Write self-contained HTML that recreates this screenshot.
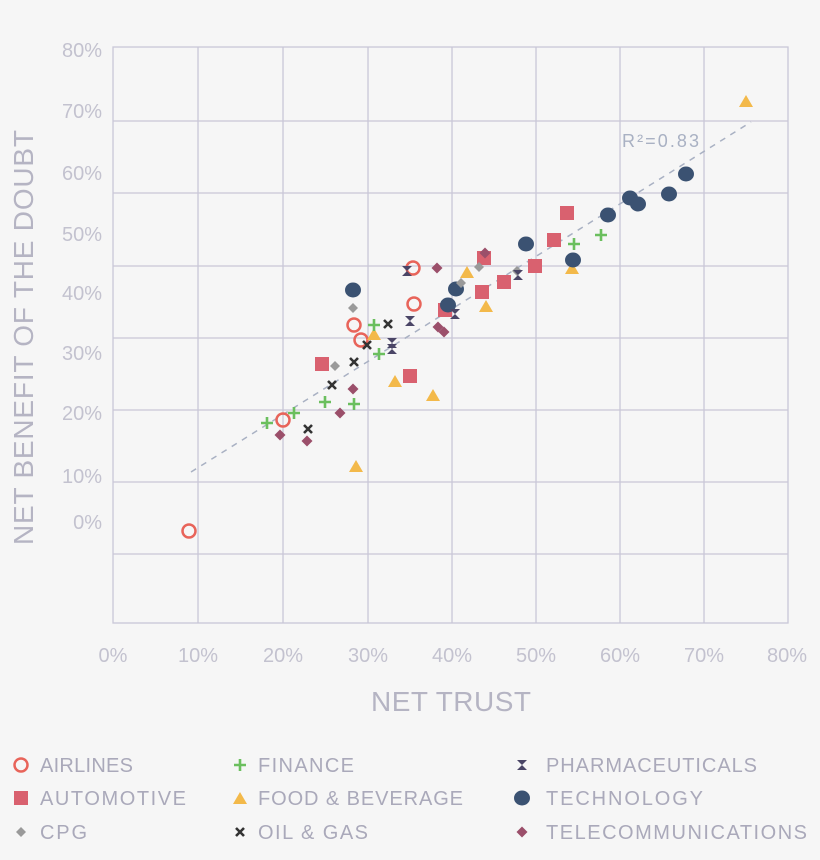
<!DOCTYPE html>
<html><head><meta charset="utf-8"><style>
body{margin:0;background:#f6f6f6;}
svg{display:block;font-family:"Liberation Sans",sans-serif;}
</style></head><body>
<svg width="820" height="860" viewBox="0 0 820 860">
<rect width="820" height="860" fill="#f6f6f6"/>
<g stroke="#c9c7d7" stroke-width="1.3" fill="none">
<rect x="113" y="47" width="675" height="576"/>
<line x1="198" y1="47" x2="198" y2="623"/><line x1="283" y1="47" x2="283" y2="623"/>
<line x1="368" y1="47" x2="368" y2="623"/><line x1="452" y1="47" x2="452" y2="623"/>
<line x1="536" y1="47" x2="536" y2="623"/><line x1="620" y1="47" x2="620" y2="623"/>
<line x1="704" y1="47" x2="704" y2="623"/>
<line x1="113" y1="121" x2="788" y2="121"/><line x1="113" y1="193" x2="788" y2="193"/>
<line x1="113" y1="266" x2="788" y2="266"/><line x1="113" y1="338" x2="788" y2="338"/>
<line x1="113" y1="410" x2="788" y2="410"/><line x1="113" y1="482" x2="788" y2="482"/>
<line x1="113" y1="554" x2="788" y2="554"/>
</g>
<g fill="#c3c2cf" font-size="20" text-anchor="end">
<text x="102" y="57">80%</text><text x="102" y="118">70%</text><text x="102" y="180">60%</text>
<text x="102" y="241">50%</text><text x="102" y="300">40%</text><text x="102" y="360">30%</text>
<text x="102" y="420">20%</text><text x="102" y="483">10%</text><text x="102" y="529">0%</text>
</g>
<g fill="#c3c2cf" font-size="20" text-anchor="middle">
<text x="113" y="662">0%</text><text x="198" y="662">10%</text><text x="283" y="662">20%</text>
<text x="368" y="662">30%</text><text x="452" y="662">40%</text><text x="536" y="662">50%</text>
<text x="620" y="662">60%</text><text x="704" y="662">70%</text><text x="787" y="662">80%</text>
</g>
<text x="371" y="711" font-size="28" fill="#b5b4c3" textLength="160">NET TRUST</text>
<text transform="translate(33,545) rotate(-90)" font-size="28" fill="#b5b4c3" textLength="415">NET BENEFIT OF THE DOUBT</text>
<line x1="191" y1="472" x2="751" y2="122" stroke="#a9b1c3" stroke-width="1.5" stroke-dasharray="6,6"/>
<text x="622" y="147" font-size="18" fill="#a9b1c3" textLength="77">R²=0.83</text>

<defs>
<g id="ci"><circle r="6.5" fill="none" stroke="#e8645a" stroke-width="2.5"/></g>
<g id="sq"><rect x="-7" y="-7" width="14" height="14" fill="#d9616f"/></g>
<g id="tr"><path d="M0,-7 L7,5 L-7,5Z" fill="#f3b94a"/></g>
<g id="te"><ellipse rx="8" ry="7.5" fill="#3b5272"/></g>
<g id="pl"><path d="M-6,0H6M0,-6V6" stroke="#6bbf5e" stroke-width="2.6"/></g>
<g id="cp"><path d="M0,-5L5,0L0,5L-5,0Z" fill="#9a9a9a"/></g>
<g id="ox"><path d="M-4,-4L4,4M4,-4L-4,4" stroke="#333" stroke-width="2.6"/></g>
<g id="ph"><path d="M-5,-5H5L0,0L5,5H-5L0,0Z" fill="#4a4566"/></g>
<g id="tc"><path d="M0,-5.5L5.5,0L0,5.5L-5.5,0Z" fill="#9b4f6a"/></g>
</defs>
<g>
<use href="#ci" x="189" y="531"/><use href="#ci" x="283" y="420"/><use href="#ci" x="354" y="325"/>
<use href="#ci" x="361" y="340"/><use href="#ci" x="413" y="268"/><use href="#ci" x="414" y="304"/>
<use href="#sq" x="322" y="364"/><use href="#sq" x="410" y="376"/><use href="#sq" x="445" y="310"/>
<use href="#sq" x="482" y="292"/><use href="#sq" x="504" y="282"/><use href="#sq" x="535" y="266"/>
<use href="#sq" x="554" y="240"/><use href="#sq" x="567" y="213"/><use href="#sq" x="484" y="258"/>
<use href="#tr" x="356" y="467"/><use href="#tr" x="374" y="335"/><use href="#tr" x="395" y="382"/>
<use href="#tr" x="433" y="396"/><use href="#tr" x="467" y="273"/><use href="#tr" x="486" y="307"/>
<use href="#tr" x="572" y="269"/><use href="#tr" x="746" y="102"/>
<use href="#te" x="353" y="290"/><use href="#te" x="448" y="305"/><use href="#te" x="456" y="289"/>
<use href="#te" x="526" y="244"/><use href="#te" x="573" y="260"/><use href="#te" x="608" y="215"/>
<use href="#te" x="630" y="198"/><use href="#te" x="638" y="204"/><use href="#te" x="669" y="194"/>
<use href="#te" x="686" y="174"/>
<use href="#pl" x="267" y="423"/><use href="#pl" x="294" y="413"/><use href="#pl" x="325" y="402"/>
<use href="#pl" x="354" y="404"/><use href="#pl" x="374" y="325"/><use href="#pl" x="379" y="354"/>
<use href="#pl" x="574" y="244"/><use href="#pl" x="601" y="235"/>
<use href="#cp" x="353" y="308"/><use href="#cp" x="335" y="366"/><use href="#cp" x="461" y="283"/>
<use href="#cp" x="479" y="267"/><use href="#cp" x="517" y="271"/>
<use href="#ox" x="308" y="429"/><use href="#ox" x="332" y="385"/><use href="#ox" x="354" y="362"/>
<use href="#ox" x="367" y="345"/><use href="#ox" x="388" y="324"/>
<use href="#ph" x="407" y="271"/><use href="#ph" x="410" y="321"/><use href="#ph" x="392" y="349"/>
<use href="#ph" x="392" y="343"/><use href="#ph" x="455" y="314"/><use href="#ph" x="518" y="275"/>
<use href="#tc" x="280" y="435"/><use href="#tc" x="307" y="441"/><use href="#tc" x="340" y="413"/>
<use href="#tc" x="353" y="389"/><use href="#tc" x="437" y="268"/><use href="#tc" x="438" y="327"/>
<use href="#tc" x="444" y="332"/><use href="#tc" x="485" y="253"/>
</g>
<g font-size="20" fill="#aaa9ba">
<use href="#ci" x="21" y="765"/><text x="40" y="772" textLength="93">AIRLINES</text>
<use href="#sq" x="21" y="798"/><text x="40" y="805" textLength="146">AUTOMOTIVE</text>
<use href="#cp" x="21" y="832"/><text x="40" y="839" textLength="47">CPG</text>
<use href="#pl" x="240" y="765"/><text x="258" y="772" textLength="96">FINANCE</text>
<use href="#tr" x="240" y="799"/><text x="258" y="805" textLength="205">FOOD &amp; BEVERAGE</text>
<use href="#ox" x="240" y="832"/><text x="258" y="839" textLength="110">OIL &amp; GAS</text>
<use href="#ph" x="522" y="765"/><text x="546" y="772" textLength="211">PHARMACEUTICALS</text>
<use href="#te" x="522" y="798"/><text x="546" y="805" textLength="157">TECHNOLOGY</text>
<use href="#tc" x="522" y="832"/><text x="546" y="839" textLength="261">TELECOMMUNICATIONS</text>
</g>
</svg>
</body></html>
